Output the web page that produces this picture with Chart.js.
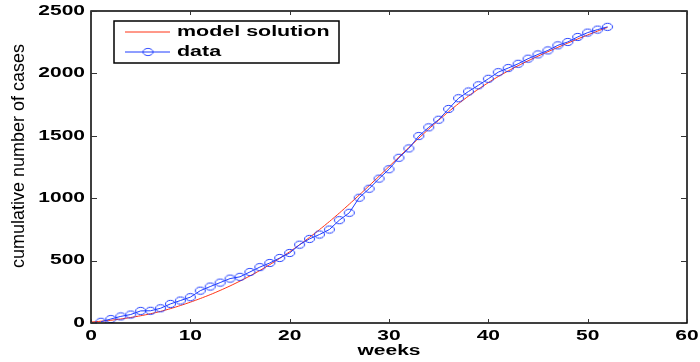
<!DOCTYPE html>
<html>
<head>
<meta charset="utf-8">
<script src="https://cdn.jsdelivr.net/npm/chart.js@4.4.1/dist/chart.umd.min.js"></script>
<style>
  html, body { margin: 0; padding: 0; background: #fff; }
  #wrap { width: 700px; height: 362px; }
</style>
</head>
<body>
<div id="wrap"><canvas id="c" width="700" height="362"></canvas></div>
<script>
// weeks 1..52, observed cumulative cases
const weeks = [1,2,3,4,5,6,7,8,9,10,11,12,13,14,15,16,17,18,19,20,21,22,23,24,25,26,
  27,28,29,30,31,32,33,34,35,36,37,38,39,40,41,42,43,44,45,46,47,48,49,50,51,52];
const cases = [10,32,53,68,97,98,118,153,180,207,259,292,324,356,370,409,448,481,521,561,
  628,674,709,749,824,883,1004,1076,1157,1232,1324,1399,1498,1568,1629,1715,1801,1855,
  1905,1957,2010,2043,2077,2118,2152,2184,2225,2252,2292,2327,2351,2373];

// model curve, weeks 0..52
const modelWeeks = [0,1,2,3,4,5,6,7,8,9,10,11,12,13,14,15,16,17,18,19,20,21,22,23,24,25,26,
  27,28,29,30,31,32,33,34,35,36,37,38,39,40,41,42,43,44,45,46,47,48,49,50,51,52];
const model = [8,14,22,32,44,58,74,93,115,140,167,196,227,261,297,336,377,421,468,518,571,
  627,686,748,813,881,952,1025,1100,1176,1253,1330,1406,1481,1554,1625,1693,1758,1818,1874,
  1926,1975,2020,2062,2101,2138,2174,2209,2243,2276,2308,2339,2369];

const xTicks = [0, 10, 20, 30, 40, 50, 60];
const yTicks = [0, 500, 1000, 1500, 2000, 2500];

const RED = 'rgb(255,50,20)';
const BLUE = 'rgb(30,60,255)';
const BOLD = 'bold 14px "Liberation Sans"';
const SX = 1.5; // the figure's text is stretched wide

// slightly flattened circle marker
const marker = document.createElement('canvas');
marker.width = 13; marker.height = 10;
(() => {
  const m = marker.getContext('2d');
  m.strokeStyle = BLUE;
  m.lineWidth = 1;
  m.beginPath();
  m.ellipse(6.5, 5, 5, 3.6, 0, 0, Math.PI * 2);
  m.stroke();
})();

function wideText(ctx, text, x, y, align) {
  ctx.save();
  ctx.translate(x, y);
  ctx.scale(SX, 1);
  ctx.textAlign = align;
  ctx.textBaseline = 'middle';
  ctx.fillText(text, 0, 0);
  ctx.restore();
}

const framePlugin = {
  id: 'frame',
  afterDraw(chart) {
    const { ctx, chartArea: a, scales: { x, y } } = chart;
    ctx.save();
    ctx.strokeStyle = '#000';
    ctx.lineWidth = 1.5;
    ctx.strokeRect(a.left, a.top, a.right - a.left, a.bottom - a.top);
    ctx.lineWidth = 1;
    ctx.strokeStyle = '#333';
    ctx.beginPath();
    xTicks.forEach(v => {
      const px = Math.round(x.getPixelForValue(v)) + 0.5;
      ctx.moveTo(px, a.bottom); ctx.lineTo(px, a.bottom - 4);
      ctx.moveTo(px, a.top); ctx.lineTo(px, a.top + 4);
    });
    yTicks.forEach(v => {
      const py = Math.round(y.getPixelForValue(v)) + 0.5;
      ctx.moveTo(a.left, py); ctx.lineTo(a.left + 6, py);
      ctx.moveTo(a.right, py); ctx.lineTo(a.right - 6, py);
    });
    ctx.stroke();

    ctx.fillStyle = '#000';
    ctx.font = BOLD;
    xTicks.forEach(v => wideText(ctx, String(v), x.getPixelForValue(v), a.bottom + 13, 'center'));
    yTicks.forEach(v => wideText(ctx, String(v), a.left - 6, y.getPixelForValue(v), 'right'));
    wideText(ctx, 'weeks', (a.left + a.right) / 2, 351, 'center');

    // y axis title
    ctx.font = '18px "Liberation Sans"';
    ctx.textAlign = 'center';
    ctx.textBaseline = 'middle';
    ctx.translate(19, 156);
    ctx.rotate(-Math.PI / 2);
    ctx.fillText('cumulative number of cases', 0, 0);
    ctx.restore();

    // legend
    ctx.save();
    ctx.fillStyle = '#fff';
    ctx.fillRect(114, 21, 225, 42);
    ctx.strokeStyle = '#000';
    ctx.lineWidth = 1.5;
    ctx.strokeRect(114, 21, 225, 42);
    ctx.lineWidth = 1;
    ctx.strokeStyle = RED;
    ctx.beginPath(); ctx.moveTo(125, 32); ctx.lineTo(170, 32); ctx.stroke();
    ctx.strokeStyle = BLUE;
    ctx.beginPath(); ctx.moveTo(125, 52); ctx.lineTo(170, 52); ctx.stroke();
    ctx.drawImage(marker, 148 - 6.5, 52 - 5);
    ctx.fillStyle = '#000';
    ctx.font = 'bold 15px "Liberation Sans"';
    ctx.save();
    ctx.translate(177, 0);
    ctx.scale(1.43, 1);
    ctx.textAlign = 'left';
    ctx.textBaseline = 'middle';
    ctx.fillText('model solution', 0, 32);
    ctx.fillText('data', 0, 52);
    ctx.restore();
    ctx.restore();
  }
};

new Chart(document.getElementById('c'), {
  type: 'line',
  data: {
    datasets: [
      {
        label: 'model solution',
        data: modelWeeks.map((w, i) => ({ x: w, y: model[i] })),
        borderColor: RED,
        borderWidth: 1,
        pointRadius: 0,
        tension: 0.2,
        order: 2
      },
      {
        label: 'data',
        data: weeks.map((w, i) => ({ x: w, y: cases[i] })),
        borderColor: BLUE,
        borderWidth: 1,
        pointStyle: marker,
        pointRadius: 5,
        order: 1
      }
    ]
  },
  options: {
    responsive: false,
    animation: false,
    layout: { padding: { top: 11, right: 13, left: 0, bottom: 0 } },
    plugins: { legend: { display: false }, tooltip: { enabled: false } },
    scales: {
      x: {
        type: 'linear',
        min: 0, max: 60,
        afterFit: s => { s.height = 39; },
        grid: { display: false },
        border: { display: false },
        ticks: { display: false }
      },
      y: {
        min: 0, max: 2500,
        afterFit: s => { s.width = 91; },
        grid: { display: false },
        border: { display: false },
        ticks: { display: false }
      }
    }
  },
  plugins: [framePlugin]
});
</script>
</body>
</html>
